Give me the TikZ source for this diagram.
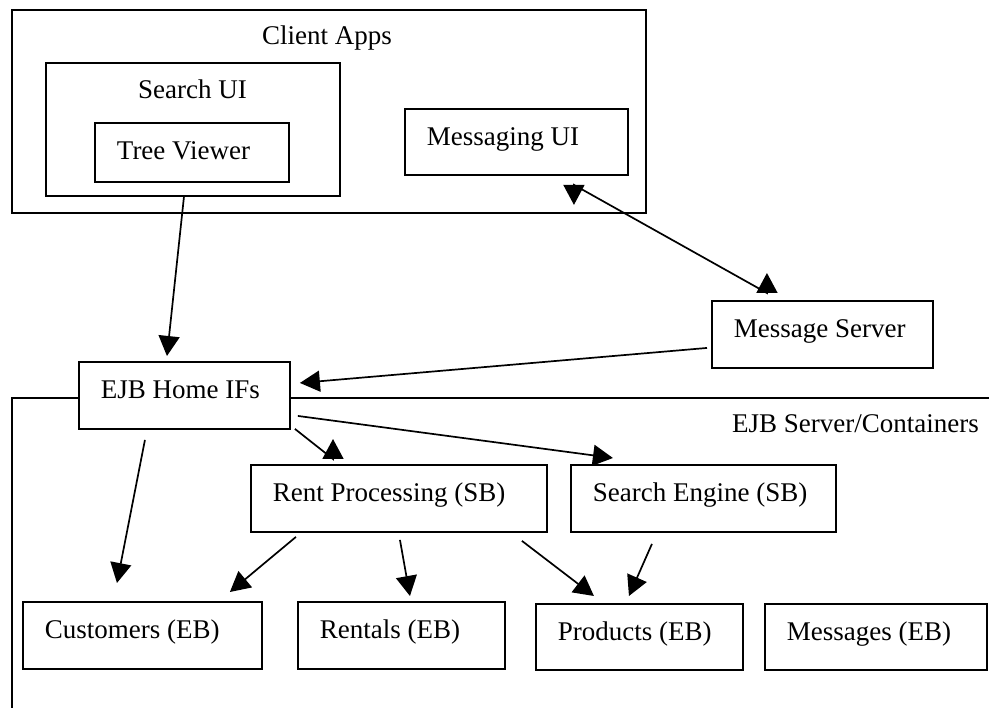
\documentclass[tikz,border=0pt]{standalone}
\usepackage{fontspec}
\setmainfont{Liberation Serif}
\usetikzlibrary{arrows.meta,calc}
\begin{document}
\begin{tikzpicture}[x=1pt,y=-1pt,
  txt/.style={font=\fontsize{27pt}{32pt}\selectfont, inner sep=0pt},
  box/.style={draw, line width=1.9pt, fill=white, anchor=north west,
    font=\fontsize{27pt}{32pt}\selectfont, align=flush left,
    inner xsep=22pt, inner ysep=0pt, text height=37pt, text depth=30pt},
  frame/.style={draw, line width=1.9pt, anchor=north west, inner sep=0pt},
  arr/.style={line width=1.7pt, -{Triangle[length=20pt,width=21pt]}},
  arrboth/.style={line width=1.7pt, {Triangle[length=20pt,width=21pt]}-{Triangle[length=20pt,width=21pt]}}]
\useasboundingbox (0,0) rectangle (989,708);
\fill[white] (0,0) rectangle (989,708);

% Client Apps container
\node[frame, minimum width=634pt, minimum height=203pt] (client) at (11,9) {};
\node[txt, anchor=base west] (clientT) at (262,45) {Client Apps};
\node[frame, minimum width=294pt, minimum height=133pt] (sui) at (45,62) {};
\node[txt, anchor=base west] (suiT) at (138,99) {Search UI};
\node[box, text width=150pt, text depth=22pt] (tv) at (94,122) {Tree Viewer};
\node[box, text width=179pt, text depth=29pt] (mui) at (404,108) {Messaging UI};

% EJB server container (open frame)
\coordinate (srvR) at (989,398);
\coordinate (srvC) at (12,398);
\coordinate (srvB) at (12,708);
\draw[line width=1.9pt] (srvR) -- (srvC) -- (srvB);
\node[txt, anchor=base west] (srvT) at (732,433) {EJB Server/Containers};

\node[box, text width=177pt] (ms) at (711,300) {Message Server};
\node[box, text width=167pt] (ejb) at (78,361) {EJB Home IFs};
\node[box, text width=252pt] (rp) at (250,464) {Rent Processing (SB)};
\node[box, text width=221pt] (se) at (570,464) {Search Engine (SB)};
\node[box, text width=195pt] (cu) at (22,601) {Customers (EB)};
\node[box, text width=163pt] (re) at (297,601) {Rentals (EB)};
\node[box, text width=163pt, text depth=29pt] (pr) at (535,603) {Products (EB)};
\node[box, text width=178pt, text depth=29pt] (me) at (764,603) {Messages (EB)};

% connectors
\draw[arr] ($(tv.south)+(-8,14)$) -- ($(ejb.north)+(-17.5,-5)$);
\draw[arrboth] ($(mui.south)+(57.5,29)$) -- ($(mui.south)+(57.5,9)$)
  -- ($(ms.north)+(-55.5,-7)$) -- ($(ms.north)+(-55.5,-27)$);
\draw[arr] ($(ms.west)+(-4,13.5)$) -- ($(ejb.east)+(9,-12.5)$);
\draw[arr] ($(ejb.south)+(-39.5,10)$) -- ($(cu.north)+(-25.5,-18)$);
\draw[arr] ($(ejb.south east)+(4,-1)$) -- ($(rp.north west)+(83,-5)$) -- ($(rp.north west)+(83,-25)$);
\draw[arr] ($(ejb.east)+(7,20.5)$) -- ($(se.north)+(-90.5,-6)$);
\draw[arr] ($(rp.south)+(-103,4)$) -- ($(cu.north east)+(-33,-9)$);
\draw[arr] ($(rp.south)+(1,7)$) -- ($(re.north)+(8.5,-5)$);
\draw[arr] ($(rp.south)+(123,8)$) -- ($(pr.north)+(-45.5,-7)$);
\draw[arr] ($(se.south)+(-51.5,11)$) -- ($(pr.north)+(-10.5,-7)$);
\end{tikzpicture}
\end{document}
